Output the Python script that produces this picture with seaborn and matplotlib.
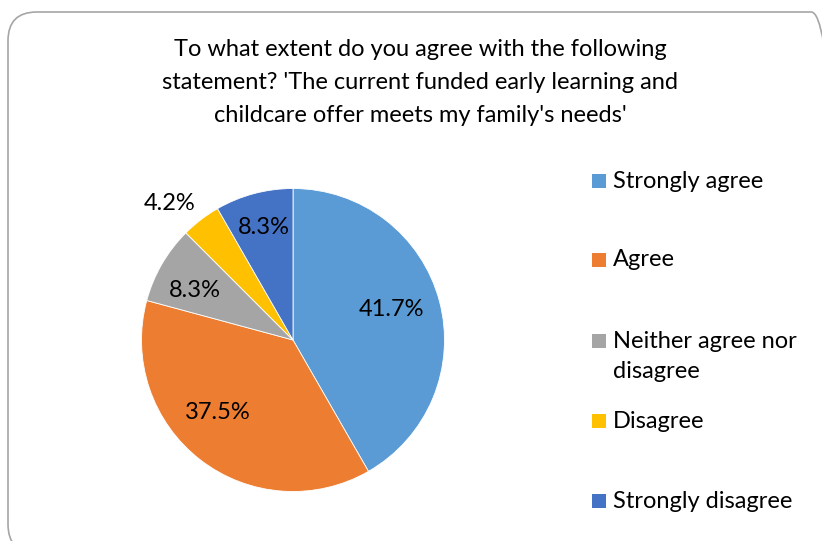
import numpy as np
import matplotlib
matplotlib.use("Agg")
import matplotlib.pyplot as plt
from matplotlib.patches import FancyBboxPatch, Rectangle
import seaborn as sns

categories = ["Strongly agree", "Agree", "Neither agree nor\ndisagree", "Disagree", "Strongly disagree"]
values = [41.7, 37.5, 8.3, 4.2, 8.3]
labels = ["41.7%", "37.5%", "8.3%", "4.2%", "8.3%"]
colors = ["#5B9BD5", "#ED7D31", "#A5A5A5", "#FFC000", "#4472C4"]
title = ("To what extent do you agree with the following\n"
         "statement? 'The current funded early learning and\n"
         "childcare offer meets my family's needs'")

sns.set_theme(style="white")
plt.rcParams['font.family'] = ['Lato', 'DejaVu Sans']

W, H = 822, 541
fig = plt.figure(figsize=(W / 100, H / 100), dpi=100)
fig.patch.set_facecolor("white")


def fx(px):
    return px / W


def fy(py):
    return 1 - py / H


# chart border (rounded)
border = FancyBboxPatch((8 / W, 1 - 12 / H - 1), (840 - 8) / W, 1.0,
                        boxstyle="round,pad=0,rounding_size=0.035",
                        transform=fig.transFigure, fill=False,
                        edgecolor="#A6A6A6", linewidth=1.2,
                        mutation_aspect=W / H)
fig.patches.append(border)

# pie
cx, cy, r = 293, 340, 151.5
ax = fig.add_axes([(cx - r) / W, (H - cy - r) / H, 2 * r / W, 2 * r / H])
wedges, _ = ax.pie(values, colors=colors, startangle=90, counterclock=False,
                   radius=1.0, wedgeprops=dict(edgecolor="white", linewidth=0.6))
ax.set_xlim(-1, 1)
ax.set_ylim(-1, 1)
ax.set_aspect("equal")
ax.axis("off")

# data labels (per-slice radial distance / angle nudge, Excel "best fit" look)
dist = [0.68, 0.69, 0.726, 1.217, 0.764]
nudge = [2, -8.4, 3.6, 4.6, -0.5]
for w, lab, d, n in zip(wedges, labels, dist, nudge):
    ang = np.deg2rad((w.theta1 + w.theta2) / 2 + n)
    ax.text(d * np.cos(ang), d * np.sin(ang), lab, ha="center", va="center",
            fontsize=17, color="#000000")

# title
fig.text(fx(420), fy(82.5), title, ha="center", va="center",
         fontsize=17, linespacing=1.71, color="#000000")

# legend (Excel-style right legend, entries spread vertically)
row_y = [181, 260, 341, 421, 501]
sq = 14
for cat, c, y in zip(categories, colors, row_y):
    fig.add_artist(Rectangle((fx(592), fy(y + sq / 2)), sq / W, sq / H,
                             transform=fig.transFigure, facecolor=c,
                             edgecolor="none"))
    nlines = cat.count("\n") + 1
    ty = y + (nlines - 1) * 31 / 2
    fig.text(fx(613), fy(ty), cat, ha="left", va="center", fontsize=17,
             linespacing=1.49, color="#000000")

fig.savefig("out.png", dpi=100, facecolor="white")
